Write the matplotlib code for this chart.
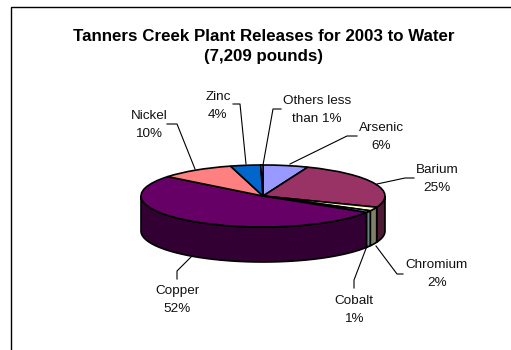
import numpy as np
import matplotlib
matplotlib.use('Agg')
import matplotlib.pyplot as plt

plt.rcParams['font.family'] = ['Liberation Sans', 'DejaVu Sans']

title = 'Tanners Creek Plant Releases for 2003 to Water\n(7,209 pounds)'
names = ['Arsenic', 'Barium', 'Chromium', 'Cobalt', 'Copper', 'Nickel', 'Zinc', 'Others less\nthan 1%']
values = [6, 25, 2, 1, 52, 10, 4, 0.3]
pct_text = ['6%', '25%', '2%', '1%', '52%', '10%', '4%', '']

top_colors = ['#9999FF', '#993366', '#FFFFCC', '#CCFFFF', '#660066', '#FF8080', '#0066CC', '#CCCCFF']
side_colors = ['#4D4D80', '#4D1A33', '#808066', '#668080', '#330033', '#804040', '#003366', '#666680']

# label centres and leader lines, in pixels of the 511x350 picture
label_xy = [(381, 137), (437, 179), (437, 274), (354, 310), (177, 300), (149, 125), (218, 106), (317, 110)]
leaders = [
    [(357, 136), (347, 136), (290, 164)],
    [(414, 178), (405, 178), (377, 184)],
    [(403, 274), (397, 274), (376, 246)],
    [(354, 288), (354, 280), (367, 246)],
    [(177, 279), (177, 271), (192, 256)],
    [(167, 124), (177, 124), (195, 169)],
    [(233, 104), (240, 104), (246, 164)],
    [(281, 109), (273, 109), (263, 165)],
]

W, H = 511, 350
cx, cy, rx, ry, depth = 263, 196, 122, 31, 35

fig = plt.figure(figsize=(W / 100, H / 100), dpi=100, facecolor='white')

# pie axes: one unit is rx across and ry down, so the circle comes out flat
ax = fig.add_axes([0, 0, 1, 1])
ax.pie(values, startangle=90, counterclock=False, colors=top_colors,
       wedgeprops=dict(edgecolor='black', linewidth=1.2, zorder=3))
ax.set_aspect('auto')
ax.set_xlim(-cx / rx, (W - cx) / rx)
ax.set_ylim((cy - H) / ry, cy / ry)
ax.patch.set_alpha(0)

# side wall of the slices on the front half
d = depth / ry
edges = np.cumsum([0] + values) / sum(values) * 360
for i in range(len(values)):
    a0, a1 = max(edges[i], 90), min(edges[i + 1], 270)
    if a1 <= a0:
        continue
    t = np.radians(np.linspace(a0, a1, 80))
    x = np.sin(t)
    y = np.cos(t)
    ax.fill(np.r_[x, x[::-1]], np.r_[y, y[::-1] - d], facecolor=side_colors[i],
            edgecolor='black', linewidth=1.2, zorder=2)

# overlay in pixel coordinates for frame, title and labels
ov = fig.add_axes([0, 0, 1, 1])
ov.set_xlim(0, W)
ov.set_ylim(H, 0)
ov.axis('off')
ov.patch.set_alpha(0)
ov.plot([10.5, 10.5, W], [H, 6.5, 6.5], color='black', lw=1.0, solid_joinstyle='miter')

ov.text(264, 46.5, title, ha='center', va='center', fontsize=12.2, fontweight='bold',
        color='black', linespacing=1.42)

for name, pct, (lx, ly), line in zip(names, pct_text, label_xy, leaders):
    txt = name + '\n' + pct if pct else name
    ov.text(lx, ly, txt, ha='center', va='center', fontsize=9.7, color='#111111', linespacing=1.6)
    ov.plot([p[0] for p in line], [p[1] for p in line], color='black', lw=0.8, zorder=1)

fig.savefig('out.png', dpi=100)
